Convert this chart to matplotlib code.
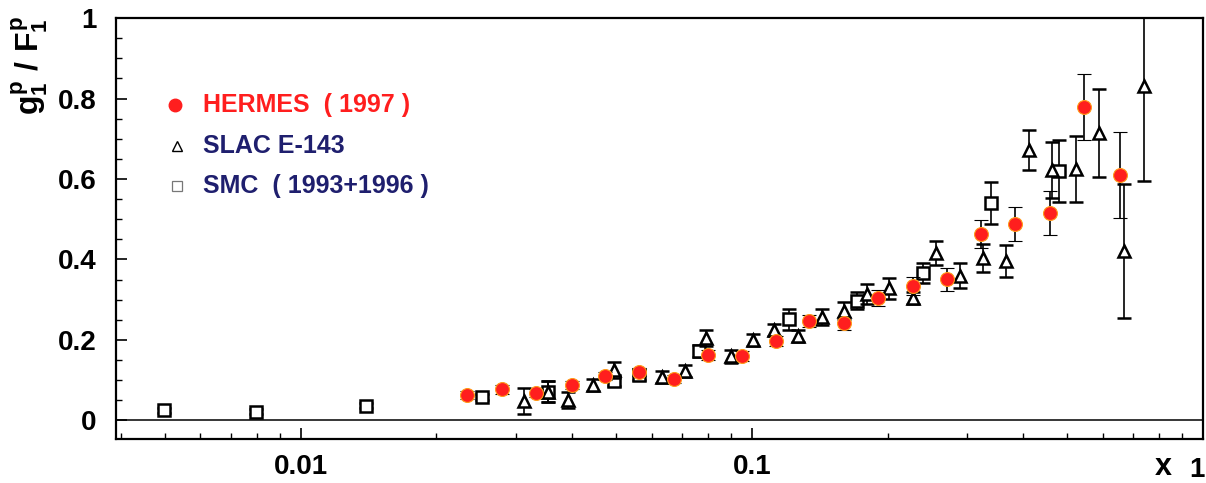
import numpy as np
import matplotlib.pyplot as plt
from matplotlib.ticker import FixedLocator, MultipleLocator, LogLocator, NullFormatter

plt.rcParams['font.family'] = ['Liberation Sans', 'DejaVu Sans']
plt.rcParams['font.weight'] = 'bold'
plt.rcParams['mathtext.fontset'] = 'custom'
plt.rcParams['mathtext.rm'] = 'Liberation Sans:bold'
plt.rcParams['mathtext.it'] = 'Liberation Sans:bold'
plt.rcParams['mathtext.bf'] = 'Liberation Sans:bold'

# HERMES (1997)
hermes_x = [0.0234, 0.0280, 0.0332, 0.0399, 0.0472, 0.0562, 0.0671, 0.0799, 0.0950, 0.1130,
            0.1338, 0.1600, 0.1903, 0.2275, 0.2706, 0.3220, 0.3829, 0.4579, 0.5447, 0.6546]
hermes_y = [0.063, 0.077, 0.068, 0.089, 0.110, 0.121, 0.102, 0.162, 0.161, 0.197,
            0.248, 0.241, 0.304, 0.335, 0.351, 0.464, 0.489, 0.515, 0.779, 0.611]
hermes_err = [0.010, 0.010, 0.010, 0.010, 0.010, 0.010, 0.010, 0.012, 0.012, 0.013,
              0.015, 0.017, 0.020, 0.022, 0.029, 0.035, 0.042, 0.055, 0.082, 0.107]

# SLAC E-143
slac_x = [0.0312, 0.0353, 0.0391, 0.0444, 0.0494, 0.0632, 0.0710, 0.0791, 0.0898, 0.1005,
          0.1119, 0.1265, 0.1429, 0.1600, 0.1799, 0.2013, 0.2275, 0.2559, 0.2892, 0.3256,
          0.3658, 0.4113, 0.4625, 0.5228, 0.5878, 0.6680, 0.7400]
slac_y = [0.048, 0.072, 0.050, 0.088, 0.126, 0.107, 0.124, 0.204, 0.159, 0.200,
          0.224, 0.211, 0.257, 0.273, 0.315, 0.328, 0.305, 0.416, 0.360, 0.404,
          0.396, 0.672, 0.622, 0.625, 0.714, 0.421, 0.831]
slac_err = [0.033, 0.025, 0.020, 0.015, 0.020, 0.015, 0.015, 0.020, 0.015, 0.015,
            0.015, 0.015, 0.020, 0.022, 0.025, 0.025, 0.015, 0.030, 0.031, 0.035,
            0.040, 0.050, 0.070, 0.083, 0.109, 0.166, 0.235]

# SMC (1993+1996)
smc_x = [0.00497, 0.00798, 0.0140, 0.0252, 0.0353, 0.0494, 0.0562, 0.0763, 0.1208, 0.1710,
         0.2394, 0.3388, 0.4793]
smc_y = [0.025, 0.022, 0.037, 0.058, 0.072, 0.097, 0.113, 0.173, 0.251, 0.298,
         0.367, 0.540, 0.621]
smc_err = [0.006, 0.006, 0.006, 0.008, 0.025, 0.012, 0.012, 0.015, 0.025, 0.020,
           0.025, 0.052, 0.077]

fig = plt.figure(figsize=(12.06, 4.83), dpi=100)
ax = fig.add_axes([0.0962, 0.0911, 0.9013, 0.8716])

eb = dict(ecolor='black', elinewidth=1.2, capsize=5, capthick=1.2, linestyle='none')
ax.errorbar(smc_x, smc_y, yerr=smc_err, fmt='s', ms=8.5, mfc='white', mec='black', mew=1.8,
            zorder=3, **eb)
ax.errorbar(slac_x, slac_y, yerr=slac_err, fmt='^', ms=9, mfc='white', mec='black', mew=1.8,
            zorder=4, **eb)
ax.errorbar(hermes_x, hermes_y, yerr=hermes_err, fmt='o', ms=10, mfc='#ff1e1e', mec='#ff9a1a',
            mew=0.8, zorder=5, **eb)

ax.axhline(0, color='black', lw=1.1, zorder=1)

ax.set_xscale('log')
ax.set_xlim(0.0039, 1.0)
ax.set_ylim(-0.046, 1.0)

ax.xaxis.set_major_locator(FixedLocator([0.01, 0.1]))
ax.set_xticklabels(['0.01', '0.1'])
ax.xaxis.set_minor_locator(LogLocator(base=10, subs=np.arange(2, 10)))
ax.xaxis.set_minor_formatter(NullFormatter())
ax.yaxis.set_major_locator(FixedLocator([0, 0.2, 0.4, 0.6, 0.8, 1.0]))
ax.set_yticklabels(['0', '0.2', '0.4', '0.6', '0.8', '1'])
ax.yaxis.set_minor_locator(MultipleLocator(0.05))

ax.tick_params(which='both', direction='in', top=False, right=False, labelsize=20)
ax.tick_params(which='major', length=8, width=1.2)
ax.tick_params(which='minor', length=4, width=1.0)
ax.tick_params(axis='x', pad=11)
ax.tick_params(axis='y', pad=14)
for s in ax.spines.values():
    s.set_linewidth(1.6)

# the "1" at the right end of the x axis, pulled in so it stays inside the picture
fig.text(0.999, 1 - 470 / 483, '1', fontsize=20, fontweight='bold', ha='right', va='center')

# legend drawn by hand
ax.plot([0.054], [0.793], 'o', ms=9, color='#ff1e1e', transform=ax.transAxes, clip_on=False)
ax.plot([0.056], [0.695], '^', ms=7, mfc='white', mec='black', mew=1.0,
        transform=ax.transAxes, clip_on=False)
ax.plot([0.056], [0.600], 's', ms=7, mfc='white', mec='#777777', mew=0.9,
        transform=ax.transAxes, clip_on=False)
ax.text(0.080, 0.793, 'HERMES  ( 1997 )', color='#ff1e1e', fontsize=18, fontweight='bold',
        va='center', transform=ax.transAxes)
ax.text(0.080, 0.695, 'SLAC E-143', color='#1f1f6e', fontsize=18, fontweight='bold',
        va='center', transform=ax.transAxes)
ax.text(0.080, 0.600, 'SMC  ( 1993+1996 )', color='#1f1f6e', fontsize=18, fontweight='bold',
        va='center', transform=ax.transAxes)

fig.text(30 / 1206, 1 - 65 / 483, r'$g_1^p\ /\ F_1^p$', rotation=90, fontsize=23,
         ha='center', va='center')
fig.text(1163 / 1206, 1 - 467 / 483, 'x', fontsize=22, fontweight='bold',
         ha='center', va='center')

fig.savefig('out.png', dpi=100)
